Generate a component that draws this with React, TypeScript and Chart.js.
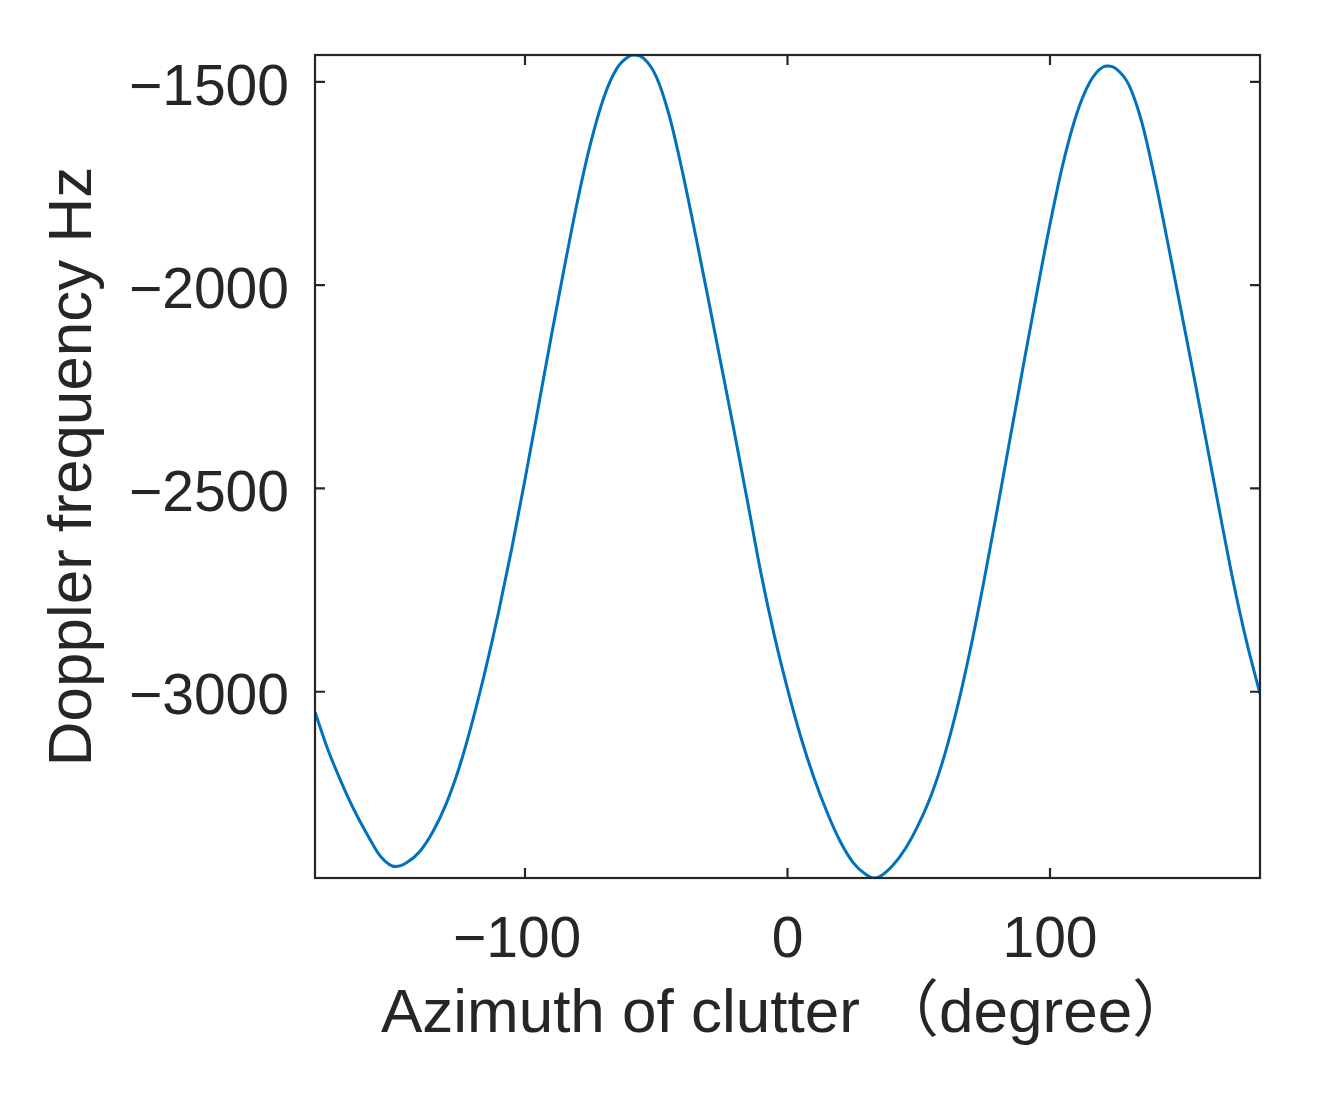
import React, { useEffect, useRef } from "react";
import { Chart, registerables } from "chart.js";

Chart.register(...registerables);

// Azimuth of clutter (degree)
const azimuth = [
  -180, -175, -170, -165, -160, -155, -149.3, -145, -140, -135, -130, -125, -120,
  -115, -110, -105, -100, -95, -90, -85, -80, -75, -70, -65, -60, -58.5, -55, -50, -45,
  -40, -35, -30, -25, -20, -15, -10, -5, 0, 5, 10, 15, 20, 25, 30, 32.8, 35, 40, 45, 50,
  55, 60, 65, 70, 75, 80, 85, 90, 95, 100, 105, 110, 115, 120, 122.3, 125, 130, 135, 140,
  145, 150, 155, 160, 165, 170, 175, 180,
];

// Doppler frequency (Hz)
const doppler = [
  -3050, -3144, -3222, -3292, -3352, -3405, -3430, -3420, -3392, -3343, -3275, -3185, -3072,
  -2944, -2802, -2646, -2478, -2302, -2126, -1956, -1793, -1651, -1539, -1467, -1436, -1434, -1441, -1487, -1584,
  -1722, -1878, -2040, -2205, -2370, -2540, -2712, -2862, -2993, -3110, -3210, -3295, -3367, -3420, -3450, -3458, -3455, -3428, -3385, -3325,
  -3250, -3152, -3030, -2885, -2722, -2548, -2370, -2192, -2018, -1850, -1700, -1582, -1503, -1464, -1461, -1467, -1507, -1600, -1740,
  -1900, -2065, -2230, -2400, -2570, -2735, -2880, -3005,
];

const xTickValues = [-100, 0, 100];
const yTickValues = [-3000, -2500, -2000, -1500];
const xLimits = [-180, 180];
const yLimits = [-3458, -1434];

const xLabel = "Azimuth of clutter \uFF08degree\uFF09";
const yLabel = "Doppler frequency Hz";

const TEXT = "#262626";
const FONT = '"Liberation Sans", Arial, "Noto Sans CJK SC", sans-serif';

const fmtY = (v: number) => (v < 0 ? "\u2212" + Math.abs(v) : String(v));
// MATLAB-style: negative x labels sit slightly left of their tick
const fmtX = (v: number) => (v < 0 ? "\u2212" + Math.abs(v) + " " : String(v));

const boxPlugin = {
  id: "matlabBox",
  afterDatasetsDraw(chart: any) {
    const { ctx, chartArea: a, scales } = chart;
    const L = 10;
    ctx.save();
    ctx.strokeStyle = TEXT;
    ctx.lineWidth = 2.2;
    ctx.beginPath();
    scales.x.ticks.forEach((t: any) => {
      const px = scales.x.getPixelForValue(t.value);
      ctx.moveTo(px, a.bottom);
      ctx.lineTo(px, a.bottom - L);
      ctx.moveTo(px, a.top);
      ctx.lineTo(px, a.top + L);
    });
    scales.y.ticks.forEach((t: any) => {
      const py = scales.y.getPixelForValue(t.value);
      ctx.moveTo(a.left, py);
      ctx.lineTo(a.left + L, py);
      ctx.moveTo(a.right, py);
      ctx.lineTo(a.right - L, py);
    });
    ctx.stroke();
    ctx.strokeRect(a.left, a.top, a.right - a.left, a.bottom - a.top);
    ctx.restore();
  },
};

export default function App() {
  const ref = useRef<HTMLCanvasElement | null>(null);

  useEffect(() => {
    if (!ref.current) return;
    const points = azimuth.map((x, i) => ({ x, y: doppler[i] }));
    const chart = new Chart(ref.current, {
      type: "line",
      data: {
        datasets: [
          {
            data: points,
            borderColor: "#0072BD",
            borderWidth: 3,
            pointRadius: 0,
            fill: false,
            cubicInterpolationMode: "monotone",
          },
        ],
      },
      options: {
        animation: false,
        responsive: false,
        devicePixelRatio: 1,
        events: [],
        layout: { padding: { left: 0, right: 57, top: 55, bottom: 0 } },
        plugins: {
          legend: { display: false },
          tooltip: { enabled: false },
          title: { display: false },
        },
        scales: {
          x: {
            type: "linear",
            min: xLimits[0],
            max: xLimits[1],
            grid: { display: false },
            border: { display: false },
            afterBuildTicks: (s: any) => {
              s.ticks = xTickValues.map((value) => ({ value }));
            },
            afterFit: (s: any) => {
              s.height = 224;
            },
            ticks: {
              color: TEXT,
              font: { family: FONT, size: 57 },
              padding: 21,
              maxRotation: 0,
              autoSkip: false,
              callback: (v: any) => fmtX(Number(v)),
            },
            title: {
              display: true,
              text: xLabel,
              color: TEXT,
              font: { family: FONT, size: 62 },
              padding: { top: 0, bottom: 50 },
            },
          },
          y: {
            type: "linear",
            min: yLimits[0],
            max: yLimits[1],
            grid: { display: false },
            border: { display: false },
            afterBuildTicks: (s: any) => {
              s.ticks = yTickValues.map((value) => ({ value }));
            },
            afterFit: (s: any) => {
              s.width = 315;
            },
            ticks: {
              color: TEXT,
              font: { family: FONT, size: 57 },
              padding: 18,
              labelOffset: 7,
              autoSkip: false,
              callback: (v: any) => fmtY(Number(v)),
            },
            title: {
              display: true,
              text: yLabel,
              color: TEXT,
              font: { family: FONT, size: 62 },
              padding: { top: 37, bottom: 0 },
            },
          },
        },
      },
      plugins: [boxPlugin],
    });
    return () => chart.destroy();
  }, []);

  return (
    <div style={{ position: "absolute", left: 0, top: 0, width: 1317, height: 1102, background: "#fff" }}>
      <canvas ref={ref} width={1317} height={1102} style={{ display: "block" }} />
    </div>
  );
}
